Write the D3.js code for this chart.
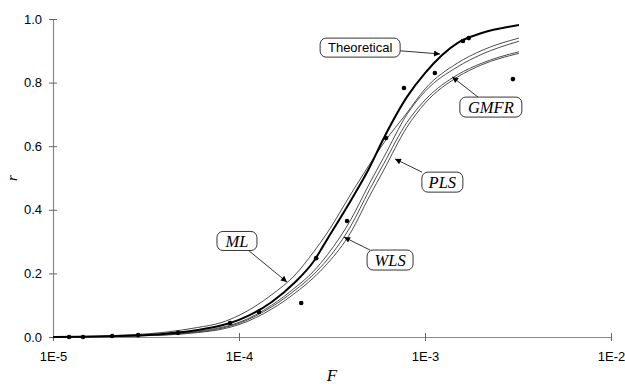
<!DOCTYPE html>
<html>
<head>
<meta charset="utf-8">
<script src="https://cdn.jsdelivr.net/npm/d3@7"></script>
<style>
  html, body { margin: 0; padding: 0; background: #fff; }
  svg { display: block; }
  .tick text { font-family: "Liberation Sans", Arial, sans-serif; font-size: 13px; fill: #000; }
  .lbl-sans { font-family: "Liberation Sans", Arial, sans-serif; font-size: 13px; }
  .lbl-serif { font-family: "Liberation Serif", "Times New Roman", serif; font-style: italic; font-size: 16.5px; }
</style>
</head>
<body>
<div id="chart"></div>
<script>
// F grid shared by the fitted / theoretical curves
var fGrid = [1e-5, 2e-5, 4e-5, 6e-5, 8e-5, 1e-4, 1.5e-4, 2e-4, 2.5e-4, 3e-4,
             4e-4, 5e-4, 6e-4, 8e-4, 1e-3, 1.5e-3, 2e-3, 3.2e-3];
var theoretical = [0, 0.002, 0.010, 0.022, 0.036, 0.054, 0.110, 0.172, 0.235, 0.310,
                   0.430, 0.530, 0.625, 0.755, 0.830, 0.925, 0.955, 0.981];
var mlFit   = [0, 0.004, 0.015, 0.030, 0.045, 0.068, 0.133, 0.195, 0.265, 0.330,
               0.450, 0.540, 0.610, 0.705, 0.780, 0.862, 0.900, 0.940];
var wlsFit  = [0, 0.002, 0.008, 0.018, 0.030, 0.046, 0.100, 0.155, 0.205, 0.260,
               0.370, 0.480, 0.565, 0.700, 0.772, 0.850, 0.888, 0.930];
var plsFit  = [0, 0.002, 0.007, 0.016, 0.027, 0.043, 0.095, 0.147, 0.195, 0.245,
               0.350, 0.460, 0.545, 0.675, 0.745, 0.825, 0.860, 0.897];
var gmfrFit = [0, 0.002, 0.006, 0.014, 0.024, 0.039, 0.088, 0.138, 0.185, 0.232,
               0.330, 0.440, 0.525, 0.660, 0.735, 0.818, 0.855, 0.892];

// observed points
var obsF = [1.22e-5, 1.45e-5, 2.08e-5, 2.87e-5, 4.7e-5, 8.95e-5, 1.28e-4, 2.16e-4,
            2.6e-4, 3.81e-4, 6.17e-4, 7.71e-4, 1.13e-3, 1.6e-3, 1.72e-3, 2.97e-3];
var obsR = [0, 0, 0.003, 0.006, 0.013, 0.044, 0.079, 0.107,
            0.248, 0.365, 0.626, 0.783, 0.830, 0.931, 0.940, 0.811];

var xTicks = [1e-5, 1e-4, 1e-3, 1e-2];
var xTickLabels = ['1E-5', '1E-4', '1E-3', '1E-2'];
var yTicks = [0, 0.2, 0.4, 0.6, 0.8, 1.0];

// callout labels: box centre and arrow tip, both in data units
var callouts = [
  { text: 'Theoretical', serif: false, w: 80, h: 19, bx: 4.48e-4, by: 0.910, tx: 1.205e-3, ty: 0.890 },
  { text: 'GMFR',        serif: true,  w: 62, h: 20, bx: 2.26e-3, by: 0.723, tx: 1.40e-3,  ty: 0.818 },
  { text: 'PLS',         serif: true,  w: 41, h: 20, bx: 1.24e-3, by: 0.487, tx: 6.90e-4,  ty: 0.560 },
  { text: 'WLS',         serif: true,  w: 46, h: 20, bx: 6.49e-4, by: 0.242, tx: 3.67e-4,  ty: 0.314 },
  { text: 'ML',          serif: true,  w: 40, h: 19, bx: 9.75e-5, by: 0.302, tx: 1.81e-4,  ty: 0.173 }
];

(function () {
  var W = 625, H = 384;
  var x = d3.scaleLog().domain([1e-5, 1e-2]).range([53, 611]);
  var y = d3.scaleLinear().domain([0, 1]).range([337, 19]);

  var svg = d3.select('#chart').append('svg').attr('width', W).attr('height', H);

  svg.append('defs').append('marker')
    .attr('id', 'arrow').attr('viewBox', '0 0 10 10')
    .attr('refX', 10).attr('refY', 5)
    .attr('markerWidth', 8).attr('markerHeight', 6)
    .attr('markerUnits', 'userSpaceOnUse')
    .attr('orient', 'auto')
    .append('path').attr('d', 'M0,0L10,5L0,10Z').attr('fill', '#000');

  // axes
  var xAxis = d3.axisBottom(x).tickValues(xTicks).tickSize(4).tickPadding(11)
    .tickFormat(function (d, i) { return xTickLabels[i]; });
  var gx = svg.append('g').attr('transform', 'translate(0,' + y(0) + ')').call(xAxis);
  gx.selectAll('.tick line').attr('y1', -4).attr('y2', 4);

  var yAxis = d3.axisLeft(y).tickValues(yTicks).tickSize(4).tickPadding(7)
    .tickFormat(d3.format('.1f'));
  var gy = svg.append('g').attr('transform', 'translate(' + x(1e-5) + ',0)').call(yAxis);
  gy.selectAll('.tick line').attr('x1', -4).attr('x2', 4);

  [gx, gy].forEach(function (g) {
    g.select('.domain').attr('stroke', '#8a8a8a').attr('stroke-width', 1.2);
    g.selectAll('.tick line').attr('stroke', '#666');
  });

  // curves
  var line = d3.line()
    .x(function (d) { return x(d[0]); })
    .y(function (d) { return y(d[1]); })
    .curve(d3.curveMonotoneX);
  function pairs(vals) { return fGrid.map(function (f, i) { return [f, vals[i]]; }); }

  var fits = [gmfrFit, plsFit, wlsFit, mlFit];
  var curveG = svg.append('g').attr('fill', 'none');
  fits.forEach(function (vals) {
    curveG.append('path').attr('d', line(pairs(vals)))
      .attr('stroke', '#3a3a3a').attr('stroke-width', 0.9);
  });
  curveG.append('path').attr('d', line(pairs(theoretical)))
    .attr('stroke', '#000').attr('stroke-width', 2);

  // observed points
  svg.append('g').selectAll('circle').data(obsF).enter().append('circle')
    .attr('cx', function (f) { return x(f); })
    .attr('cy', function (f, i) { return y(obsR[i]); })
    .attr('r', 2.3).attr('fill', '#000');

  // callouts: arrow starts where the centre->tip line leaves the box
  var cg = svg.append('g');
  callouts.forEach(function (c) {
    var cx = x(c.bx), cy = y(c.by), tx = x(c.tx), ty = y(c.ty);
    var dx = tx - cx, dy = ty - cy;
    var s = Math.min((c.w / 2) / Math.abs(dx || 1e-9), (c.h / 2) / Math.abs(dy || 1e-9));
    cg.append('line')
      .attr('x1', cx + dx * s).attr('y1', cy + dy * s)
      .attr('x2', tx).attr('y2', ty)
      .attr('stroke', '#000').attr('stroke-width', 0.8)
      .attr('marker-end', 'url(#arrow)');
    cg.append('rect')
      .attr('x', cx - c.w / 2).attr('y', cy - c.h / 2)
      .attr('width', c.w).attr('height', c.h).attr('rx', 6)
      .attr('fill', '#fff').attr('stroke', '#000').attr('stroke-width', 0.8);
    cg.append('text')
      .attr('class', c.serif ? 'lbl-serif' : 'lbl-sans')
      .attr('x', cx).attr('y', cy).attr('dy', '0.35em')
      .attr('text-anchor', 'middle')
      .text(c.text);
  });

  // axis titles
  svg.append('text').attr('class', 'lbl-serif')
    .attr('transform', 'translate(17,' + y(0.5) + ') rotate(-90)')
    .attr('text-anchor', 'middle').style('font-size', '15px')
    .text('r');
  svg.append('text').attr('class', 'lbl-serif')
    .attr('x', (x(1e-5) + x(1e-2)) / 2).attr('y', 381)
    .attr('text-anchor', 'middle').style('font-size', '17px')
    .text('F');
})();
</script>
</body>
</html>
